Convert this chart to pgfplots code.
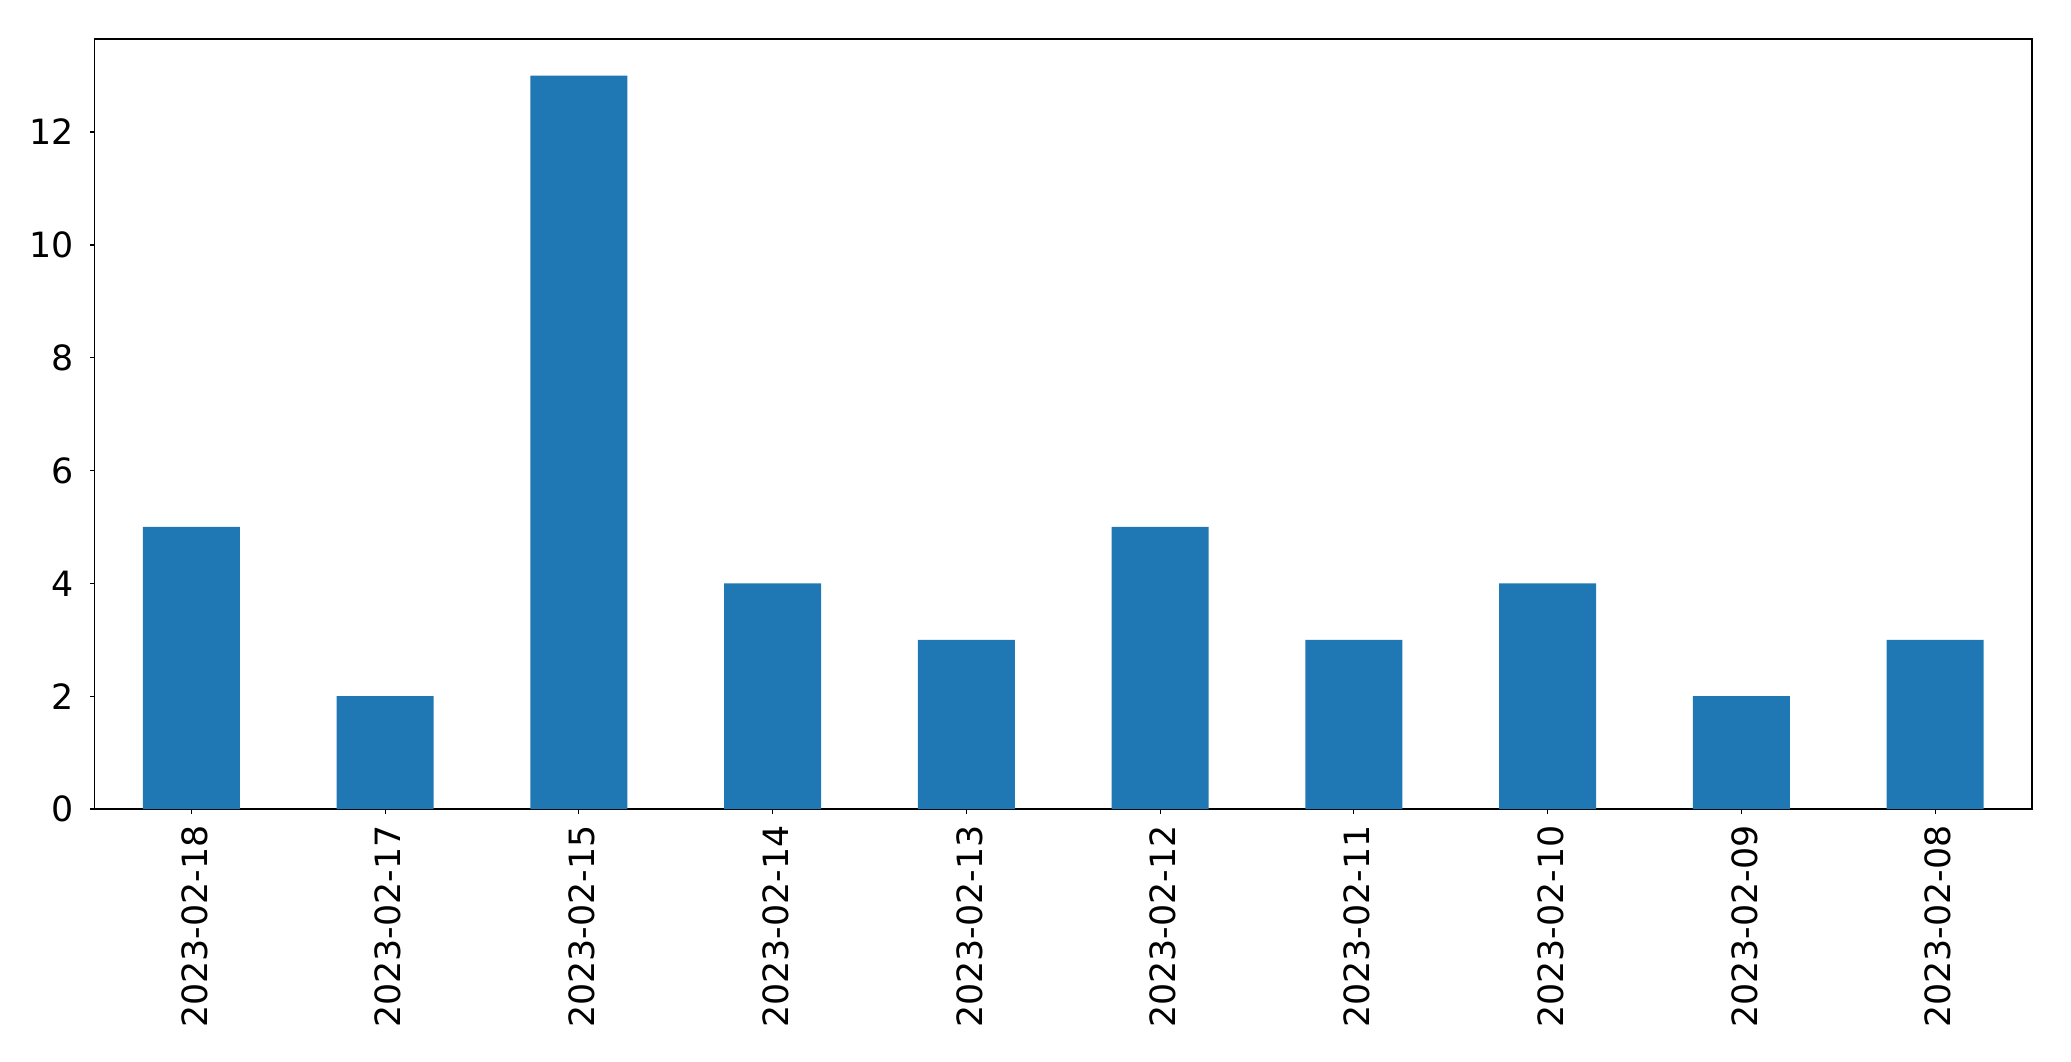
\documentclass[border=0pt]{standalone}
\usepackage{fontspec}
\setmainfont{DejaVu Sans}
\usepackage{pgfplots}
\pgfplotsset{compat=1.18}
\usetikzlibrary{calc}
\definecolor{mplblue}{HTML}{1F77B4}

\begin{document}
\fontsize{17.4pt}{21pt}\selectfont
\begin{tikzpicture}
\begin{axis}[
    name=ax,
    scale only axis,
    width=968.75pt,
    height=385pt,
    xmin=-0.5, xmax=9.5,
    ymin=0, ymax=13.65,
    xtick=data,
    xticklabels={2023-02-18,2023-02-17,2023-02-15,2023-02-14,2023-02-13,2023-02-12,2023-02-11,2023-02-10,2023-02-09,2023-02-08},
    x tick label style={rotate=90, anchor=east},
    ytick={0,2,4,6,8,10,12},
    tick align=outside,
    major tick length=2.25pt,
    xtick pos=bottom, ytick pos=left,
    axis line style={line width=0.6pt},
    tick style={line width=0.6pt, black},
    /pgf/number format/assume math mode=true,
    ticklabel style={font=\fontsize{17.4pt}{21pt}\selectfont},
    xticklabel style={yshift=-1.5pt},
    yticklabel style={xshift=-2pt},
]
\addplot[ybar, bar width=0.5, fill=mplblue, draw=none] coordinates {
    (0,5) (1,2) (2,13) (3,4) (4,3) (5,5) (6,3) (7,4) (8,2) (9,3)
};
\end{axis}
\pgfresetboundingbox
\path[use as bounding box] ($(ax.south west)+(-47.25pt,-126pt)$) rectangle ($(ax.north east)+(19.5pt,19.5pt)$);
\end{tikzpicture}
\end{document}
